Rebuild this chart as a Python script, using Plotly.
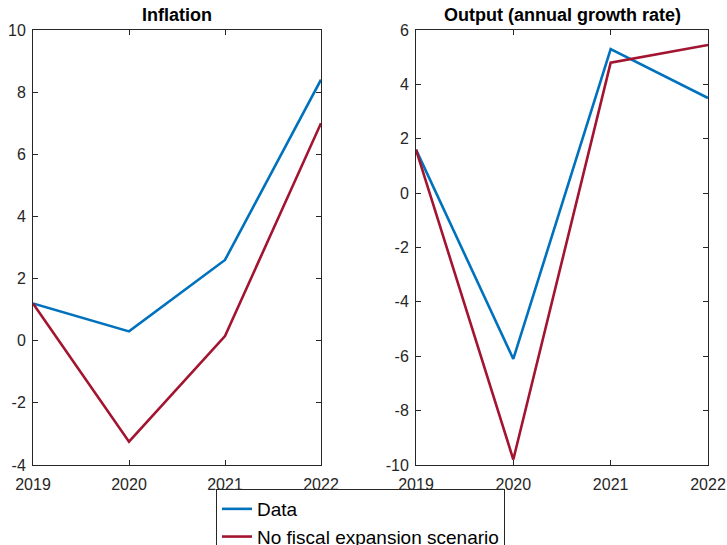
import plotly.graph_objects as go
from plotly.subplots import make_subplots

years = [2019, 2020, 2021, 2022]
inflation_data = [1.2, 0.3, 2.6, 8.4]
inflation_scenario = [1.2, -3.25, 0.15, 7.0]
output_data = [1.6, -6.1, 5.3, 3.5]
output_scenario = [1.6, -9.8, 4.8, 5.45]
titles = ["Inflation", "Output (annual growth rate)"]
series_names = ["Data", "No fiscal expansion scenario"]
infl_ticks = [-4, -2, 0, 2, 4, 6, 8, 10]
out_ticks = [-10, -8, -6, -4, -2, 0, 2, 4, 6]

blue = "#0072BD"
red = "#A2142F"
axcol = "#262626"
font = "Liberation Sans, Arial, sans-serif"

fig = make_subplots(rows=1, cols=2, horizontal_spacing=0.14)
fig.add_trace(go.Scatter(x=years, y=inflation_data, mode="lines", name=series_names[0],
                         line=dict(color=blue, width=2.6)), 1, 1)
fig.add_trace(go.Scatter(x=years, y=inflation_scenario, mode="lines", name=series_names[1],
                         line=dict(color=red, width=2.6)), 1, 1)
fig.add_trace(go.Scatter(x=years, y=output_data, mode="lines", name=series_names[0],
                         showlegend=False, line=dict(color=blue, width=2.6)), 1, 2)
fig.add_trace(go.Scatter(x=years, y=output_scenario, mode="lines", name=series_names[1],
                         showlegend=False, line=dict(color=red, width=2.6)), 1, 2)

W, H = 727, 545
ml, mt = 33, 30
mr = W - 708
mb = H - 465
pw = W - ml - mr
ph = H - mt - mb
d1 = [0, (321 - 33) / pw]
d2 = [(416 - 33) / pw, 1]

axis_common = dict(showline=True, linecolor=axcol, linewidth=1, mirror="ticks",
                   ticks="inside", ticklen=5, tickcolor=axcol, showgrid=False,
                   zeroline=False, automargin=False,
                   tickfont=dict(family=font, size=16, color=axcol))

def labels(v):
    return [str(t) for t in v]

fig.update_layout(
    width=W, height=H,
    margin=dict(l=ml, r=mr, t=mt, b=mb, autoexpand=False),
    plot_bgcolor="white", paper_bgcolor="white",
    font=dict(family=font, color=axcol),
    xaxis=dict(domain=d1, range=[2019, 2022], tickvals=years, ticktext=labels(years),
               ticklabelstandoff=5, **axis_common),
    xaxis2=dict(domain=d2, range=[2019, 2022], tickvals=years, ticktext=labels(years),
                ticklabelstandoff=5, **axis_common),
    yaxis=dict(range=[-4, 10], tickvals=infl_ticks, ticktext=labels(infl_ticks),
               ticklabelstandoff=3, **axis_common),
    yaxis2=dict(range=[-10, 6], tickvals=out_ticks, ticktext=labels(out_ticks),
                ticklabelstandoff=3, **axis_common),
    legend=dict(x=(216 - 33) / pw, y=-(489 - 465) / ph, xanchor="left", yanchor="top",
                bordercolor=axcol, borderwidth=1, bgcolor="white",
                font=dict(family=font, size=19, color="black"), tracegroupgap=0),
    showlegend=True,
)
fig.layout.annotations = []
for i, t in enumerate(titles):
    dom = d1 if i == 0 else d2
    fig.add_annotation(x=(dom[0] + dom[1]) / 2, y=1, xref="paper", yref="paper",
                       xanchor="center", yanchor="bottom", yshift=3, showarrow=False,
                       text="<b>" + t + "</b>", font=dict(family=font, size=18, color="black"))

fig.write_html("out.html", config={"displayModeBar": False},
               post_script="document.body.style.margin='0';document.body.style.overflow='hidden';")
